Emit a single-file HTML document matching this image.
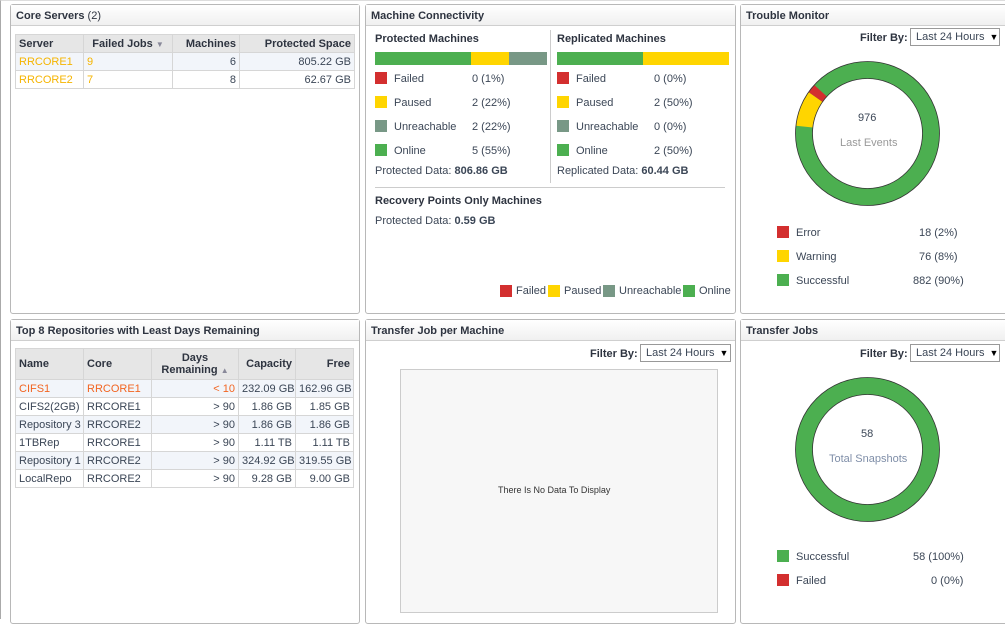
<!DOCTYPE html>
<html><head><style>
*{margin:0;padding:0;box-sizing:border-box}
body{width:1005px;height:619px;background:#fff;font-family:"Liberation Sans",sans-serif;font-size:11px;color:#3b4656;position:relative;overflow:hidden}
.a{position:absolute;white-space:nowrap}
.p{position:absolute;border:1px solid #b8b8b8;border-radius:3px;background:#fff}
.h{position:absolute;left:0;right:0;top:0;height:21px;border-bottom:1px solid #cfcfcf;background:linear-gradient(#fff,#f0f0f0);font-weight:bold;font-size:11px;padding:5px 0 0 5px;color:#2e3440;white-space:nowrap}
table{position:absolute;border-collapse:collapse;font-size:11px;table-layout:fixed}
td,th{border:1px solid #d6d6d6;padding:0 3px;height:18px;white-space:nowrap;overflow:hidden}
th{background:#e6e6e6;font-weight:bold;color:#2e3440}
.r{text-align:right}
.sq{position:absolute;width:12px;height:12px}
.dd{position:absolute;border:1px solid #999;height:18px;font-size:11px;padding:2px 5px;background:#fff;white-space:nowrap}
.fb{position:absolute;font-weight:bold;font-size:11px;color:#2e3440;white-space:nowrap}
.b{font-weight:bold}
</style></head><body>
<div class="a" style="left:0;top:0;width:1005px;height:619px;border-left:1px solid #aaa;border-top:1px solid #ddd"></div>

<div class="p" style="left:10px;top:4px;width:350px;height:310px"><div class="h">Core Servers <span style="font-weight:normal">(2)</span></div></div>
<table style="left:15px;top:34px;width:340px">
<colgroup><col style="width:68px"><col style="width:89px"><col style="width:67px"><col></colgroup>
<tr><th style="text-align:left">Server</th><th>Failed Jobs <span style="font-size:8px;color:#889">▼</span></th><th class="r">Machines</th><th class="r">Protected Space</th></tr>
<tr style="background:#f2f5fa"><td style="color:#f5b400">RRCORE1</td><td style="color:#f5b400">9</td><td class="r">6</td><td class="r">805.22 GB</td></tr>
<tr><td style="color:#f5b400">RRCORE2</td><td style="color:#f5b400">7</td><td class="r">8</td><td class="r">62.67 GB</td></tr>
</table>

<div class="p" style="left:365px;top:4px;width:371px;height:310px"><div class="h">Machine Connectivity</div></div>
<div class="a b" style="left:375px;top:33px;color:#2e3440">Protected Machines</div>
<div class="a b" style="left:557px;top:33px;color:#2e3440">Replicated Machines</div>
<div class="a" style="left:550px;top:30px;width:1px;height:153px;background:#ccc"></div>
<div class="a" style="left:375px;top:52px;width:96px;height:13px;background:#4caf50"></div>
<div class="a" style="left:471px;top:52px;width:38px;height:13px;background:#ffd500"></div>
<div class="a" style="left:509px;top:52px;width:38px;height:13px;background:#789886"></div>
<div class="a" style="left:557px;top:52px;width:86px;height:13px;background:#4caf50"></div>
<div class="a" style="left:643px;top:52px;width:86px;height:13px;background:#ffd500"></div>

<div class="sq" style="left:375px;top:72px;background:#d32f2f"></div><div class="a" style="left:394px;top:73px">Failed</div><div class="a" style="left:472px;top:73px">0 (1%)</div>
<div class="sq" style="left:375px;top:96px;background:#ffd500"></div><div class="a" style="left:394px;top:97px">Paused</div><div class="a" style="left:472px;top:97px">2 (22%)</div>
<div class="sq" style="left:375px;top:120px;background:#789886"></div><div class="a" style="left:394px;top:121px">Unreachable</div><div class="a" style="left:472px;top:121px">2 (22%)</div>
<div class="sq" style="left:375px;top:144px;background:#4caf50"></div><div class="a" style="left:394px;top:145px">Online</div><div class="a" style="left:472px;top:145px">5 (55%)</div>
<div class="sq" style="left:557px;top:72px;background:#d32f2f"></div><div class="a" style="left:576px;top:73px">Failed</div><div class="a" style="left:654px;top:73px">0 (0%)</div>
<div class="sq" style="left:557px;top:96px;background:#ffd500"></div><div class="a" style="left:576px;top:97px">Paused</div><div class="a" style="left:654px;top:97px">2 (50%)</div>
<div class="sq" style="left:557px;top:120px;background:#789886"></div><div class="a" style="left:576px;top:121px">Unreachable</div><div class="a" style="left:654px;top:121px">0 (0%)</div>
<div class="sq" style="left:557px;top:144px;background:#4caf50"></div><div class="a" style="left:576px;top:145px">Online</div><div class="a" style="left:654px;top:145px">2 (50%)</div>
<div class="a" style="left:375px;top:165px">Protected Data: <b>806.86 GB</b></div>
<div class="a" style="left:557px;top:165px">Replicated Data: <b>60.44 GB</b></div>
<div class="a" style="left:375px;top:187px;width:350px;height:1px;background:#ccc"></div>
<div class="a b" style="left:375px;top:195px;color:#2e3440">Recovery Points Only Machines</div>
<div class="a" style="left:375px;top:215px">Protected Data: <b>0.59 GB</b></div>
<div class="sq" style="left:500px;top:285px;background:#d32f2f"></div><div class="a" style="left:516px;top:285px">Failed</div>
<div class="sq" style="left:548px;top:285px;background:#ffd500"></div><div class="a" style="left:564px;top:285px">Paused</div>
<div class="sq" style="left:603px;top:285px;background:#789886"></div><div class="a" style="left:619px;top:285px">Unreachable</div>
<div class="sq" style="left:683px;top:285px;background:#4caf50"></div><div class="a" style="left:699px;top:285px">Online</div>

<div class="p" style="left:740px;top:4px;width:270px;height:310px"><div class="h">Trouble Monitor</div></div>
<div class="fb" style="left:860px;top:32px">Filter By:</div>
<div class="dd" style="left:910px;top:28px;width:90px">Last 24 Hours <span style="font-size:9px;color:#000;margin-left:2px">▼</span></div>
<svg class="a" style="left:790px;top:56px" width="155" height="155" viewBox="0 0 155 155">
<g transform="rotate(-90 77.5 77.5)">
<circle cx="77.5" cy="77.5" r="63.5" fill="none" stroke="#4caf50" stroke-width="17"/>
<circle cx="77.5" cy="77.5" r="63.5" fill="none" stroke="#ffd500" stroke-width="17" stroke-dasharray="32 367" stroke-dashoffset="-306"/>
<circle cx="77.5" cy="77.5" r="63.5" fill="none" stroke="#d32f2f" stroke-width="17" stroke-dasharray="8 391" stroke-dashoffset="-338"/>
</g>
<circle cx="77.5" cy="77.5" r="72" fill="none" stroke="#333" stroke-width="0.8"/>
<circle cx="77.5" cy="77.5" r="55" fill="#fff" stroke="#333" stroke-width="0.8"/>
</svg>
<div class="a" style="left:858px;top:112px">976</div>
<div class="a" style="left:840px;top:137px;color:#999">Last Events</div>
<div class="sq" style="left:777px;top:226px;background:#d32f2f"></div><div class="a" style="left:796px;top:227px">Error</div><div class="a" style="left:919px;top:227px">18 (2%)</div>
<div class="sq" style="left:777px;top:250px;background:#ffd500"></div><div class="a" style="left:796px;top:251px">Warning</div><div class="a" style="left:919px;top:251px">76 (8%)</div>
<div class="sq" style="left:777px;top:274px;background:#4caf50"></div><div class="a" style="left:796px;top:275px">Successful</div><div class="a" style="left:913px;top:275px">882 (90%)</div>

<div class="p" style="left:10px;top:319px;width:350px;height:305px"><div class="h">Top 8 Repositories with Least Days Remaining</div></div>
<table style="left:15px;top:348px;width:339px">
<colgroup><col style="width:68px"><col style="width:68px"><col style="width:87px"><col style="width:57px"><col></colgroup>
<tr style="height:31px"><th style="text-align:left">Name</th><th style="text-align:left">Core</th><th style="line-height:12px">Days<br>Remaining <span style="font-size:8px;color:#889">▲</span></th><th class="r">Capacity</th><th class="r">Free</th></tr>
<tr style="background:#f2f5fa;color:#f26522"><td>CIFS1</td><td>RRCORE1</td><td class="r">&lt; 10</td><td class="r" style="color:#3b4656">232.09 GB</td><td class="r" style="color:#3b4656">162.96 GB</td></tr>
<tr><td>CIFS2(2GB)</td><td>RRCORE1</td><td class="r">&gt; 90</td><td class="r">1.86 GB</td><td class="r">1.85 GB</td></tr>
<tr style="background:#f2f5fa"><td>Repository 3</td><td>RRCORE2</td><td class="r">&gt; 90</td><td class="r">1.86 GB</td><td class="r">1.86 GB</td></tr>
<tr><td>1TBRep</td><td>RRCORE1</td><td class="r">&gt; 90</td><td class="r">1.11 TB</td><td class="r">1.11 TB</td></tr>
<tr style="background:#f2f5fa"><td>Repository 1</td><td>RRCORE2</td><td class="r">&gt; 90</td><td class="r">324.92 GB</td><td class="r">319.55 GB</td></tr>
<tr><td>LocalRepo</td><td>RRCORE2</td><td class="r">&gt; 90</td><td class="r">9.28 GB</td><td class="r">9.00 GB</td></tr>
</table>

<div class="p" style="left:365px;top:319px;width:371px;height:305px"><div class="h">Transfer Job per Machine</div></div>
<div class="fb" style="left:590px;top:348px">Filter By:</div>
<div class="dd" style="left:640px;top:344px;width:91px">Last 24 Hours <span style="font-size:9px;color:#000;margin-left:2px">▼</span></div>
<div class="a" style="left:400px;top:369px;width:318px;height:244px;background:#f7f7f7;border:1px solid #ccc"></div>
<div class="a" style="left:498px;top:485px;font-size:9px;color:#333">There Is No Data To Display</div>

<div class="p" style="left:740px;top:319px;width:270px;height:305px"><div class="h">Transfer Jobs</div></div>
<div class="fb" style="left:860px;top:348px">Filter By:</div>
<div class="dd" style="left:910px;top:344px;width:90px">Last 24 Hours <span style="font-size:9px;color:#000;margin-left:2px">▼</span></div>
<svg class="a" style="left:790px;top:372px" width="155" height="155" viewBox="0 0 155 155">
<circle cx="77.5" cy="77.5" r="63.5" fill="none" stroke="#4caf50" stroke-width="17"/>
<circle cx="77.5" cy="77.5" r="72" fill="none" stroke="#333" stroke-width="0.8"/>
<circle cx="77.5" cy="77.5" r="55" fill="#fff" stroke="#333" stroke-width="0.8"/>
</svg>
<div class="a" style="left:861px;top:428px">58</div>
<div class="a" style="left:829px;top:453px;color:#7f8ea8">Total Snapshots</div>
<div class="sq" style="left:777px;top:550px;background:#4caf50"></div><div class="a" style="left:796px;top:551px">Successful</div><div class="a" style="left:913px;top:551px">58 (100%)</div>
<div class="sq" style="left:777px;top:574px;background:#d32f2f"></div><div class="a" style="left:796px;top:575px">Failed</div><div class="a" style="left:931px;top:575px">0 (0%)</div>
</body></html>
